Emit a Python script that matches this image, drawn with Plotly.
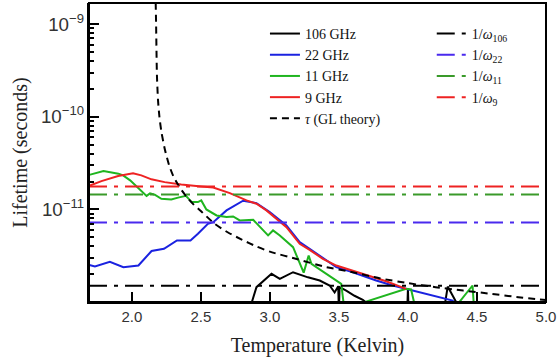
import plotly.graph_objects as go

# ---------------- data ----------------
t_106 = [2.855, 2.903, 3.012, 3.072, 3.168, 3.276, 3.361, 3.433, 3.469, 3.495, 3.500, 3.505,
         3.553, 3.613, 3.673, 3.75, 3.995, 4.000, 4.005, 4.26, 4.288, 4.385, 4.6]
v_106 = [8.5e-13, 1.45e-12, 2.02e-12, 1.78e-12, 2.10e-12, 1.85e-12, 1.71e-12, 1.51e-12, 1.27e-12,
         1.48e-12, 8.0e-13, 1.45e-12, 1.33e-12, 1.17e-12, 1.06e-12, 8.5e-13, 8.0e-13, 1.40e-12,
         8.0e-13, 8.0e-13, 1.47e-12, 8.0e-13, 8.0e-13]

t_22 = [1.692, 1.733, 1.841, 1.939, 2.048, 2.143, 2.233, 2.327, 2.425, 2.479, 2.551, 2.59,
        2.686, 2.806, 2.903, 2.999, 3.12, 3.216, 3.288, 3.481, 3.601, 3.770, 3.89, 4.011,
        4.107, 4.155, 4.324, 4.34]
v_22 = [2.51e-12, 2.42e-12, 2.72e-12, 2.38e-12, 2.48e-12, 3.56e-12, 3.76e-12, 4.63e-12, 4.63e-12,
        5.46e-12, 7.0e-12, 7.29e-12, 9.76e-12, 1.24e-11, 1.17e-11, 9.35e-12, 6.71e-12, 4.43e-12,
        3.76e-12, 2.38e-12, 2.10e-12, 1.71e-12, 1.51e-12, 1.36e-12, 1.25e-12, 1.20e-12, 1.04e-12,
        9.5e-13]

t_11 = [1.692, 1.795, 1.903, 1.937, 1.988, 2.046, 2.082, 2.107, 2.132, 2.166, 2.214, 2.286,
        2.335, 2.392, 2.434, 2.479, 2.503, 2.540, 2.614, 2.686, 2.734, 2.782, 2.879, 2.927,
        2.987, 3.023, 3.072, 3.168, 3.245, 3.281, 3.301, 3.517, 3.541, 3.55, 3.685, 3.987,
        4.023, 4.059, 4.372, 4.468, 4.48]
v_11 = [2.36e-11, 2.59e-11, 2.43e-11, 2.33e-11, 2.06e-11, 1.71e-11, 1.54e-11, 1.40e-11, 1.49e-11,
        1.44e-11, 1.30e-11, 1.28e-11, 1.34e-11, 1.40e-11, 1.20e-11, 1.20e-11, 1.25e-11, 1.0e-11,
        8.61e-12, 8.26e-12, 8.40e-12, 7.60e-12, 7.74e-12, 6.44e-12, 5.24e-12, 5.93e-12, 5.24e-12,
        3.91e-12, 2.08e-12, 3.18e-12, 2.59e-12, 1.57e-12, 8.0e-13, 8.0e-13, 1.0e-12, 1.39e-12,
        1.37e-12, 8.0e-13, 1.0e-12, 1.51e-12, 8.0e-13]

t_9 = [1.692, 1.780, 1.901, 2.009, 2.069, 2.142, 2.238, 2.358, 2.503, 2.590, 2.71, 2.831,
       2.903, 2.975, 3.12, 3.216, 3.288, 3.384, 3.481, 3.601, 3.746, 3.842, 3.987]
v_9 = [1.80e-11, 2.02e-11, 2.29e-11, 2.46e-11, 2.33e-11, 2.11e-11, 1.97e-11, 1.86e-11, 1.77e-11,
       1.72e-11, 1.50e-11, 1.25e-11, 1.15e-11, 9.76e-12, 6.44e-12, 4.26e-12, 3.66e-12, 2.93e-12,
       2.48e-12, 2.19e-12, 1.85e-12, 1.68e-12, 1.39e-12]

t_gl = [2.173, 2.176, 2.182, 2.19, 2.20, 2.215, 2.24, 2.27, 2.30, 2.35, 2.40, 2.45, 2.5, 2.6,
        2.7, 2.8, 2.9, 3.0, 3.2, 3.4, 3.6, 3.8, 4.0, 4.2, 4.4, 4.6, 4.8, 5.0]
v_gl = [1.7e-9, 1.0e-9, 2.8e-10, 1.5e-10, 1.0e-10, 6.8e-11, 4.4e-11, 3.0e-11, 2.3e-11, 1.7e-11,
        1.35e-11, 1.12e-11, 9.6e-12, 7.0e-12, 5.6e-12, 4.7e-12, 4.0e-12, 3.5e-12, 2.9e-12,
        2.4e-12, 2.1e-12, 1.8e-12, 1.6e-12, 1.45e-12, 1.33e-12, 1.23e-12, 1.13e-12, 1.05e-12]

inv_omega_labels = ["106", "22", "11", "9"]
inv_omega_values = [1.50e-12, 7.23e-12, 1.45e-11, 1.77e-11]
t_span = [1.69, 5.0]

series_names = ["106 GHz", "22 GHz", "11 GHz", "9 GHz"]
series_t = [t_106, t_22, t_11, t_9]
series_v = [v_106, v_22, v_11, v_9]
series_colors = ["#000000", "#1a22e0", "#1fb51f", "#ee2222"]
omega_colors = ["#000000", "#4a2aee", "#3a9a2a", "#ee2222"]

x_tick_start, x_tick_step = 2.0, 0.5

# ---------------- figure ----------------
fig = go.Figure()
leg_font = dict(family="Liberation Serif", size=14, color="#111111")

for name, t, v, c in zip(series_names, series_t, series_v, series_colors):
    fig.add_trace(go.Scatter(x=t, y=v, mode="lines", name=name,
                             line=dict(color=c, width=2), legend="legend"))

fig.add_trace(go.Scatter(x=t_gl, y=v_gl, mode="lines", name="<i>τ</i> (GL theory)",
                         line=dict(color="black", width=2, dash="7px,5px", shape="spline",
                                   smoothing=0.6),
                         legend="legend"))

for lab, val, c in zip(inv_omega_labels, inv_omega_values, omega_colors):
    fig.add_trace(go.Scatter(x=t_span, y=[val, val], mode="lines",
                             name=f"1/<i>ω</i><sub>{lab}</sub>",
                             line=dict(color=c, width=2, dash="18px,7px,4px,7px"),
                             legend="legend2"))

ink = "black"
axis_common = dict(showline=True, linecolor=ink, linewidth=2,
                   ticks="inside", tickcolor=ink, tickwidth=2,
                   tickfont=dict(family="Liberation Sans", size=15, color="#333333"),
                   title_font=dict(family="Liberation Serif", size=20, color="#222222"))

fig.update_xaxes(range=[1.69, 5.0], tickmode="linear", tick0=x_tick_start, dtick=x_tick_step,
                 tickformat=".1f", ticklen=10, gridcolor="white",
                 title_text="Temperature (Kelvin)", title_standoff=14, **axis_common)
fig.update_yaxes(type="log", range=[-11.999, -8.773], tickmode="linear", tick0=0, dtick=1,
                 exponentformat="power", showexponent="all", ticklen=10, gridcolor="white",
                 minor=dict(dtick="D1", ticks="inside", ticklen=5, tickwidth=2,
                            tickcolor=ink),
                 title_text="Lifetime (seconds)", title_standoff=8, **axis_common)

legend_common = dict(font=leg_font, bgcolor="rgba(0,0,0,0)", borderwidth=0,
                     xanchor="left", yanchor="top", tracegroupgap=0)
fig.update_layout(
    width=558, height=364,
    margin=dict(l=89, r=12, t=3, b=62),
    paper_bgcolor="white", plot_bgcolor="white",
    showlegend=True,
    legend=dict(x=0.385, y=0.95, **legend_common),
    legend2=dict(x=0.75, y=0.95, **legend_common),
    shapes=[dict(type="rect", xref="paper", yref="paper", x0=0, x1=1, y0=0, y1=1,
                 line=dict(color="black", width=2), layer="above")],
)

fig.write_html("out.html", config={"displayModeBar": False},
               post_script="document.body.style.margin='0';document.body.style.overflow='hidden';")
